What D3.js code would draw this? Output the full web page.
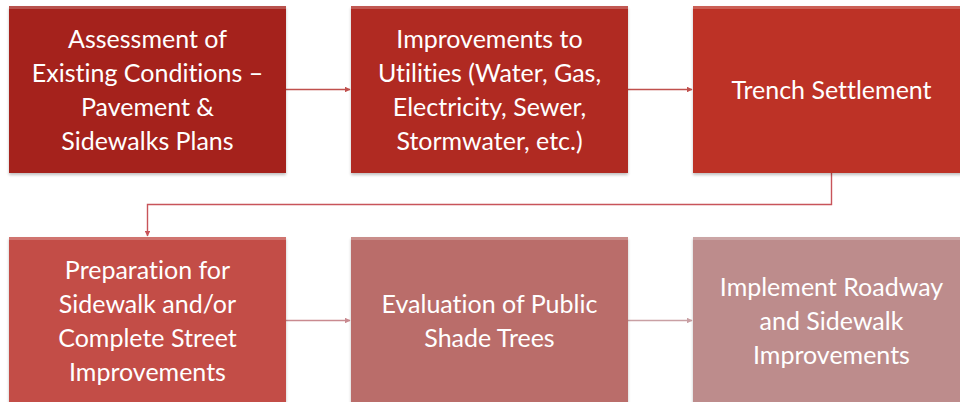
<!DOCTYPE html>
<html>
<head>
<meta charset="utf-8">
<script src="https://cdn.jsdelivr.net/npm/d3@7"></script>
<style>
  body { margin: 0; background: #fff; }
  svg { display: block; }
  .label { font-family: Lato, "Open Sans", sans-serif; fill: #fff; font-variant-ligatures: none; }
</style>
</head>
<body>
<div class="container"></div>
<script>
var width = 960;
var height = 402;

// steps of the flow, in reading order
var steps = [
    ['Assessment of', 'Existing Conditions \u2013', 'Pavement &', 'Sidewalks Plans'],
    ['Improvements to', 'Utilities (Water, Gas,', 'Electricity, Sewer,', 'Stormwater, etc.)'],
    ['Trench Settlement'],
    ['Preparation for', 'Sidewalk and/or', 'Complete Street', 'Improvements'],
    ['Evaluation of Public', 'Shade Trees'],
    ['Implement Roadway', 'and Sidewalk', 'Improvements']
];
var stepCols = [0, 1, 2, 0, 1, 2];
var stepRows = [0, 0, 0, 1, 1, 1];
var stepColors = ['#a5241c', '#b02a21', '#bd3328', '#c34e47', '#ba6d6a', '#bd8c8c'];
var arrowColors = ['#c0504d', '#c0504d', '#c8545a', '#c98a90', '#c9a0a4'];

var boxW = 277, boxH = 167;
var lineH = 34;

var XScale = d3.scaleLinear().domain([0, 1]).range([9, 351]);
var YScale = d3.scaleLinear().domain([0, 1]).range([6, 237]);

var translate = function(x, y) {
    return 'translate(' + x + ',' + y + ')';
};

var svg = d3.select('.container').append('svg')
    .attr('width', width)
    .attr('height', height);

var defs = svg.append('defs');
var shadow = defs.append('filter').attr('id', 'shadow')
    .attr('x', '-5%').attr('y', '-5%').attr('width', '110%').attr('height', '115%');
shadow.append('feGaussianBlur').attr('in', 'SourceAlpha').attr('stdDeviation', 1.5);
shadow.append('feOffset').attr('dx', 0).attr('dy', 1.5).attr('result', 'off');
shadow.append('feComponentTransfer').append('feFuncA').attr('type', 'linear').attr('slope', 0.25);
var merge = shadow.append('feMerge');
merge.append('feMergeNode');
merge.append('feMergeNode').attr('in', 'SourceGraphic');

var marker = defs.append('marker')
    .attr('id', 'head')
    .attr('viewBox', '0 0 10 10')
    .attr('refX', 9).attr('refY', 5)
    .attr('markerWidth', 4).attr('markerHeight', 4)
    .attr('orient', 'auto-start-reverse')
    .attr('markerUnits', 'strokeWidth');
marker.append('path').attr('d', 'M0,0 L10,5 L0,10 z').attr('fill', 'context-stroke');

// connectors between consecutive steps
var links = d3.range(steps.length - 1).map(function(i) { return [i, i + 1]; });

var linkPath = function(d) {
    var a = d[0], b = d[1];
    var ax = XScale(stepCols[a]), ay = YScale(stepRows[a]);
    var bx = XScale(stepCols[b]), by = YScale(stepRows[b]);
    if (stepRows[a] === stepRows[b]) {
        var y = ay + boxH / 2;
        return 'M' + (ax + boxW) + ',' + y + 'L' + (bx - 1) + ',' + y;
    }
    var midY = (ay + boxH + by) / 2 - 0.5;
    return 'M' + (ax + boxW / 2) + ',' + (ay + boxH) +
        'V' + midY + 'H' + (bx + boxW / 2) + 'V' + (by - 1);
};

svg.append('g').classed('links', true)
    .selectAll('path')
    .data(links)
    .enter().append('path')
    .attr('d', linkPath)
    .attr('fill', 'none')
    .attr('stroke', function(d, i) { return arrowColors[i]; })
    .attr('stroke-width', 1.4)
    .attr('marker-end', 'url(#head)');

var boxes = svg.append('g').classed('boxes', true)
    .selectAll('g')
    .data(steps)
    .enter().append('g')
    .attr('transform', function(d, i) { return translate(XScale(stepCols[i]), YScale(stepRows[i])); });

boxes.append('rect')
    .attr('width', boxW)
    .attr('height', boxH)
    .attr('fill', function(d, i) { return stepColors[i]; })
    .attr('filter', 'url(#shadow)');

// light bevel along the top edge
boxes.append('rect')
    .attr('width', boxW)
    .attr('height', 3)
    .attr('fill', '#fff')
    .attr('opacity', 0.22);

boxes.append('text')
    .classed('label', true)
    .attr('font-size', 25)
    .attr('text-anchor', 'middle')
    .selectAll('tspan')
    .data(function(d) { return d.map(function(t, k) { return {text: t, k: k, n: d.length}; }); })
    .enter().append('tspan')
    .attr('x', boxW / 2)
    .attr('y', function(t) { return boxH / 2 + 1 + (t.k - (t.n - 1) / 2) * lineH; })
    .attr('dy', '0.35em')
    .text(function(t) { return t.text; });
</script>
</body>
</html>
